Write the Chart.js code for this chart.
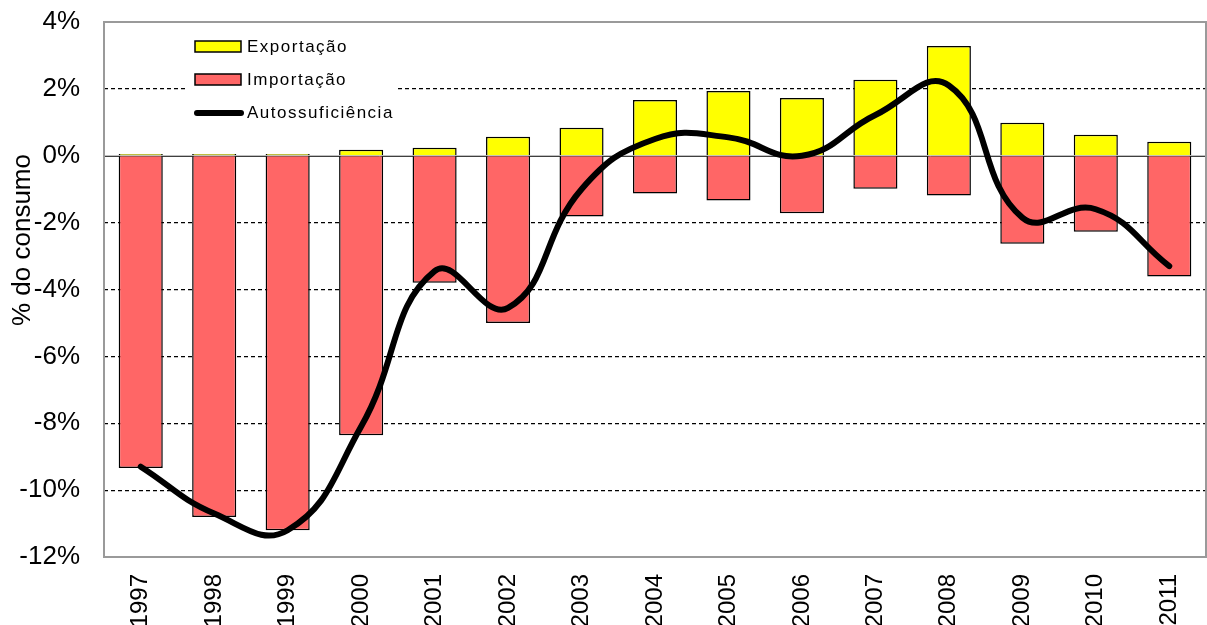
<!DOCTYPE html>
<html>
<head>
<meta charset="utf-8">
<script src="https://cdn.jsdelivr.net/npm/chart.js@4"></script>
<style>
  html, body { margin: 0; padding: 0; background: #fff; }
  #wrap { width: 1207px; height: 625px; }
</style>
</head>
<body>
<div id="wrap"><canvas id="energyChart" width="1207" height="625"></canvas></div>
<script>
const years = ['1997', '1998', '1999', '2000', '2001', '2002', '2003', '2004', '2005', '2006', '2007', '2008', '2009', '2010', '2011'];
const exportacao = [0.05, 0.05, 0.05, 0.18, 0.24, 0.57, 0.84, 1.67, 1.94, 1.73, 2.27, 3.28, 0.99, 0.63, 0.42];
const importacao = [-9.34, -10.8, -11.2, -8.36, -3.8, -5.0, -1.82, -1.13, -1.34, -1.72, -0.99, -1.19, -2.63, -2.27, -3.61];
const autossuficiencia = [-9.3, -10.7, -11.2, -8.1, -3.45, -4.55, -1.0, 0.5, 0.55, 0.0, 1.22, 2.1, -1.85, -1.6, -3.3];
const yTicks = [4, 2, 0, -2, -4, -6, -8, -10, -12];

const font = 'Arial, "Liberation Sans", sans-serif';

const framePlugin = {
  id: 'frame',
  beforeDatasetsDraw(chart) {
    const ctx = chart.ctx;
    const a = chart.chartArea;
    const y0 = chart.scales.y.getPixelForValue(0);
    ctx.save();
    // zero line
    ctx.strokeStyle = '#000';
    ctx.lineWidth = 1;
    ctx.beginPath();
    ctx.moveTo(a.left, y0 + 0.5);
    ctx.lineTo(a.right, y0 + 0.5);
    ctx.stroke();
    // legend box
    ctx.fillStyle = '#fff';
    ctx.fillRect(185, a.top + 2, 212, 110);
    const items = [
      { label: 'Exportação', color: '#ffff00', y: 47 },
      { label: 'Importação', color: '#ff6666', y: 80 },
      { label: 'Autossuficiência', line: true, y: 113 }
    ];
    ctx.font = '17px ' + font;
    ctx.letterSpacing = '1.5px';
    ctx.textBaseline = 'middle';
    items.forEach(it => {
      if (it.line) {
        ctx.strokeStyle = '#000';
        ctx.lineWidth = 6;
        ctx.lineCap = 'round';
        ctx.beginPath();
        ctx.moveTo(197, it.y);
        ctx.lineTo(241, it.y);
        ctx.stroke();
      } else {
        ctx.fillStyle = it.color;
        ctx.fillRect(195, it.y - 6, 46, 11);
        ctx.strokeStyle = '#000';
        ctx.lineWidth = 1.5;
        ctx.strokeRect(195, it.y - 6, 46, 11);
      }
      ctx.fillStyle = '#000';
      ctx.fillText(it.label, 247, it.y);
    });
    ctx.letterSpacing = '0px';
    // frame
    ctx.strokeStyle = '#9a9a9a';
    ctx.lineWidth = 2;
    ctx.lineCap = 'butt';
    ctx.strokeRect(a.left, a.top, a.right - a.left, a.bottom - a.top);
    // y axis title
    ctx.translate(23, 240);
    ctx.rotate(-Math.PI / 2);
    ctx.font = '26px ' + font;
    ctx.textAlign = 'center';
    ctx.fillStyle = '#000';
    ctx.fillText('% do consumo', 0, 0);
    ctx.restore();
  }
};

new Chart('energyChart', {
  type: 'bar',
  data: {
    labels: years,
    datasets: [
      {
        type: 'line',
        label: 'Autossuficiência',
        data: autossuficiencia,
        borderColor: '#000',
        borderWidth: 6,
        borderCapStyle: 'round',
        pointRadius: 0,
        tension: 0.45,
        order: 0
      },
      {
        label: 'Exportação',
        data: exportacao,
        backgroundColor: '#ffff00',
        borderColor: '#000',
        borderWidth: 1.5,
        grouped: false,
        barPercentage: 0.6,
        categoryPercentage: 1,
        order: 1
      },
      {
        label: 'Importação',
        data: importacao,
        backgroundColor: '#ff6666',
        borderColor: '#000',
        borderWidth: 1.5,
        grouped: false,
        barPercentage: 0.6,
        categoryPercentage: 1,
        order: 2
      }
    ]
  },
  options: {
    responsive: false,
    animation: false,
    layout: { padding: { top: 22, right: 1, left: 0, bottom: 0 } },
    plugins: {
      legend: { display: false },
      tooltip: { enabled: false }
    },
    scales: {
      x: {
        grid: { display: false },
        border: { display: false },
        ticks: {
          color: '#000',
          font: { family: font, size: 24 },
          maxRotation: 90,
          minRotation: 90,
          padding: 9
        },
        afterFit(scale) {
          scale.height = 68;
          scale.paddingLeft = 0;
          scale.paddingRight = 0;
        }
      },
      y: {
        min: -12,
        max: 4,
        afterBuildTicks(scale) { scale.ticks = yTicks.map(v => ({ value: v })); },
        grid: {
          color: ctx => (ctx.tick && [4, 0, -12].includes(ctx.tick.value)) ? 'rgba(0,0,0,0)' : '#000',
          lineWidth: 1.2,
          drawTicks: false
        },
        border: { display: false, dash: [4, 3] },
        ticks: {
          color: '#000',
          font: { family: font, size: 26 },
          padding: 24,
          callback: v => v + '%'
        },
        afterFit(scale) {
          scale.width = 104;
          scale.paddingTop = 0;
          scale.paddingBottom = 0;
        }
      }
    }
  },
  plugins: [framePlugin]
});
</script>
</body>
</html>
